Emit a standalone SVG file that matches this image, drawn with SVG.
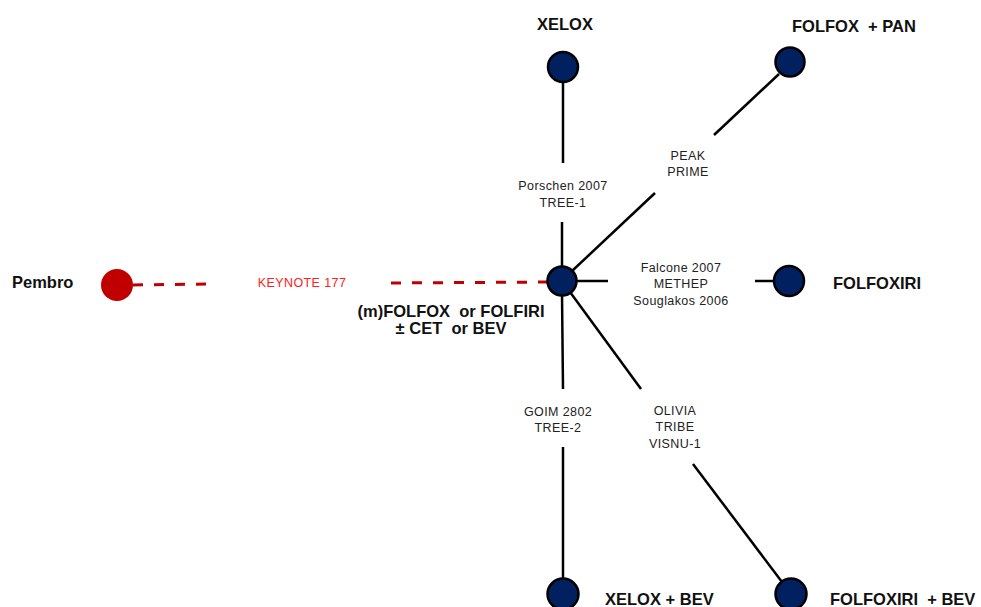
<svg xmlns="http://www.w3.org/2000/svg" width="981" height="607" viewBox="0 0 981 607">
<style>
.edge{stroke:#000;stroke-width:2.5;fill:none;stroke-linecap:butt}
.dash{stroke:#c00000;stroke-width:3;fill:none;stroke-dasharray:10 11}
.node{fill:#002060;stroke:#000;stroke-width:2.5}
.lbl{font-family:"Liberation Sans",Arial,sans-serif;font-size:12.5px;fill:#222;text-anchor:middle;letter-spacing:0.4px}
.name{font-family:"Liberation Sans",Arial,sans-serif;font-size:16.5px;font-weight:bold;fill:#111;white-space:pre}
</style>
<rect width="981" height="607" fill="#fff"/>
<g id="connectors">
  <line class="edge" x1="563" y1="81" x2="563" y2="163"/>
  <line class="edge" x1="562" y1="222" x2="562" y2="268"/>
  <line class="edge" x1="779" y1="74" x2="714" y2="135"/>
  <line class="edge" x1="655" y1="193" x2="572" y2="271"/>
  <line class="edge" x1="576" y1="281" x2="608" y2="281"/>
  <line class="edge" x1="755" y1="281" x2="774" y2="281"/>
  <line class="edge" x1="562" y1="294" x2="563" y2="389"/>
  <line class="edge" x1="563" y1="447" x2="563" y2="579"/>
  <line class="edge" x1="570" y1="292" x2="641" y2="389"/>
  <line class="edge" x1="693" y1="464" x2="782" y2="582"/>
  <line class="dash" x1="133" y1="285" x2="208" y2="284"/>
  <line class="dash" x1="391" y1="283" x2="547" y2="282"/>
  <text class="lbl" x="563" y="190">Porschen 2007</text>
  <text class="lbl" x="563" y="207">TREE-1</text>
  <text class="lbl" x="688" y="160">PEAK</text>
  <text class="lbl" x="688" y="176">PRIME</text>
  <text class="lbl" x="681" y="272">Falcone 2007</text>
  <text class="lbl" x="681" y="288">METHEP</text>
  <text class="lbl" x="681" y="305">Souglakos 2006</text>
  <text class="lbl" x="558" y="416">GOIM 2802</text>
  <text class="lbl" x="558" y="432">TREE-2</text>
  <text class="lbl" x="675" y="415">OLIVIA</text>
  <text class="lbl" x="675" y="431">TRIBE</text>
  <text class="lbl" x="675" y="448">VISNU-1</text>
  <text class="lbl" x="302" y="287" style="fill:#ff2020">KEYNOTE 177</text>
</g>
<g id="center">
  <circle class="node" cx="562" cy="281" r="14.5"/>
  <text class="name" x="451" y="317" text-anchor="middle" font-size="16">(m)FOLFOX  or FOLFIRI</text>
  <text class="name" x="451" y="334" text-anchor="middle" font-size="16">± CET  or BEV</text>
</g>
<g id="xelox">
  <circle class="node" cx="563" cy="67" r="15"/>
  <text class="name" x="565" y="30" text-anchor="middle">XELOX</text>
</g>
<g id="folfox-pan">
  <circle class="node" cx="790" cy="62" r="14.5"/>
  <text class="name" x="792" y="32">FOLFOX  + PAN</text>
</g>
<g id="folfoxiri">
  <circle class="node" cx="789" cy="281" r="15"/>
  <text class="name" x="833" y="289">FOLFOXIRI</text>
</g>
<g id="xelox-bev">
  <circle class="node" cx="563" cy="594" r="15.5"/>
  <text class="name" x="605" y="605">XELOX + BEV</text>
</g>
<g id="folfoxiri-bev">
  <circle class="node" cx="791" cy="594" r="15.5"/>
  <text class="name" x="830" y="605">FOLFOXIRI  + BEV</text>
</g>
<g id="pembro">
  <circle cx="117" cy="285" r="16" fill="#c00000"/>
  <text class="name" x="12" y="288">Pembro</text>
</g>
</svg>
